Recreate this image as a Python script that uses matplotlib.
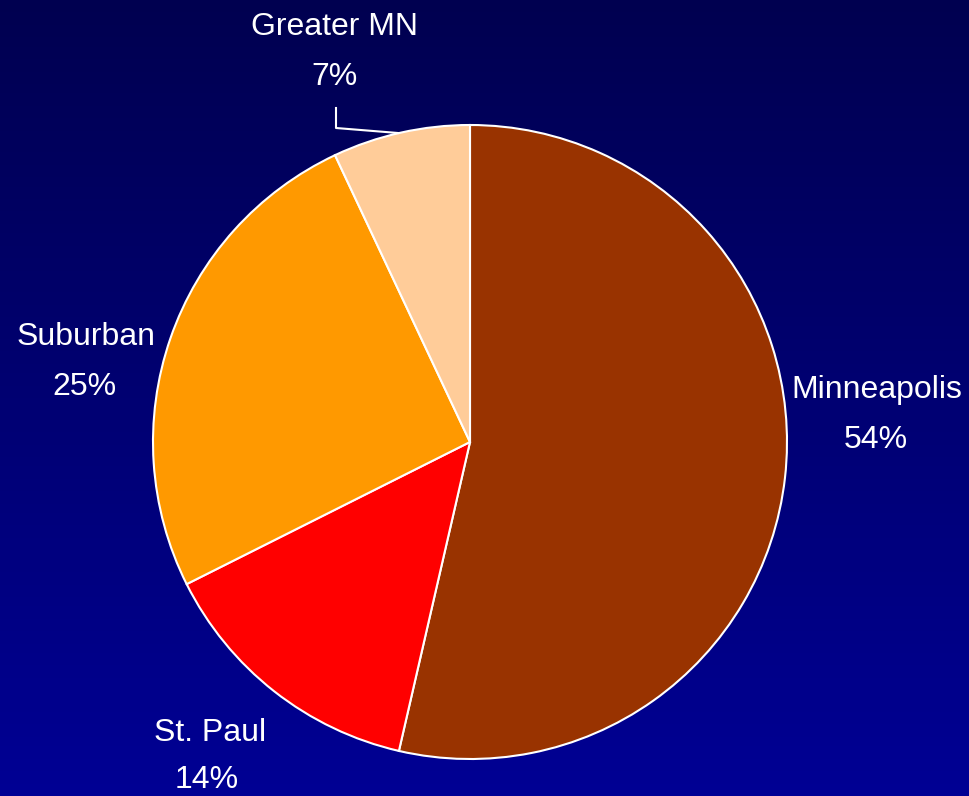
import numpy as np
import matplotlib.pyplot as plt

categories = ['Minneapolis', 'St. Paul', 'Suburban', 'Greater MN']
shares = [53.6, 14.0, 25.4, 7.0]
colors = ['#993300', '#FF0000', '#FF9900', '#FFCC99']

# label positions, pixels from top-left: (x name, y name, x pct, y pct)
label_pos = [(877, 390, 876, 440), (210, 733, 207, 780),
             (86, 337, 84, 387), (335, 27, 335, 77)]

W, H = 969, 796
fig = plt.figure(figsize=(W / 100, H / 100), dpi=100)
ax = fig.add_axes([0, 0, 1, 1])

# vertical gradient background
grad = np.linspace(0, 1, 256).reshape(-1, 1)
top = np.array([0, 0, 80]) / 255
bot = np.array([0, 0, 148]) / 255
img = top + (bot - top) * grad[:, :, None]
ax.imshow(img, extent=[0, W, 0, H], origin='upper', aspect='auto', zorder=0)

cx, cy, r = 470, H - 442, 317
ax.pie(shares, colors=colors, startangle=90, counterclock=False,
       center=(cx, cy), radius=r, frame=True,
       wedgeprops=dict(edgecolor='white', linewidth=1.5, zorder=2))
ax.set_xlim(0, W)
ax.set_ylim(0, H)
ax.set_aspect('equal')
ax.axis('off')

fonts = ['Liberation Sans Narrow', 'Liberation Sans', 'DejaVu Sans']
for name, val, (x1, y1, x2, y2) in zip(categories, shares, label_pos):
    ax.text(x1, H - y1, name, color='white', fontsize=23, family=fonts,
            ha='center', va='center', zorder=3)
    ax.text(x2, H - y2, '%.0f%%' % val, color='white', fontsize=23,
            family=fonts, ha='center', va='center', zorder=3)

# leader line for the small slice
ax.plot([336, 336, 398], [H - 108, H - 128, H - 133], color='white', lw=1.5,
        zorder=3)

fig.savefig('out.png', dpi=100)
